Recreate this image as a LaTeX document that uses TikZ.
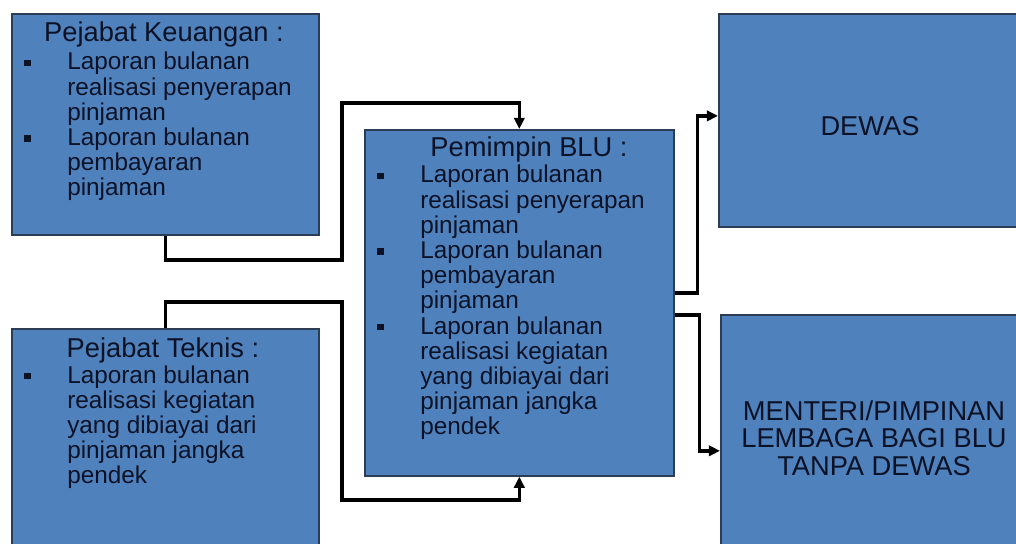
\documentclass[tikz,border=0pt]{standalone}
\usepackage{fontspec}
\setmainfont{Liberation Sans}
\usetikzlibrary{arrows.meta,positioning}
\usepackage{xcolor}
\definecolor{bluBox}{RGB}{79,129,189}
\definecolor{bluEdge}{RGB}{45,60,85}
\definecolor{ink}{RGB}{12,18,38}
\newcommand{\blt}{\rule[2.8pt]{4.6pt}{4.6pt}}
\newcommand{\isi}{\fontsize{17.3}{17.9}\selectfont}
\newcommand{\judul}{\fontsize{19.4}{19.6}\selectfont}

\begin{document}
\begin{tikzpicture}[x=0.025cm,y=-0.025cm,
    box/.style={rectangle,draw=bluEdge,fill=bluBox,line width=1.1pt,anchor=north west,inner sep=0pt},
    ttl/.style={anchor=base,inner sep=0pt,text=ink,font=\judul},
    lst/.style={anchor=base west,inner sep=0pt,text=ink,font=\isi},
    conn/.style={draw=black,line width=2.5pt,-{Triangle[length=0.28cm,width=0.26cm]}}]
    \useasboundingbox (0,0) rectangle (1016,544);
    \fill[white] (0,0) rectangle (1016,544);
    \clip (0,0) rectangle (1016,544);
    \node[box,minimum width=7.675cm,minimum height=5.525cm] (keu) at (11,13) {};
    \node[box,minimum width=7.675cm,minimum height=5.55cm] (tek) at (11,328) {};
    \node[box,minimum width=7.725cm,minimum height=8.65cm] (pim) at (364,129) {};
    \node[box,minimum width=7.55cm,minimum height=5.325cm] (dew) at (718,13) {};
    \node[box,minimum width=7.5cm,minimum height=5.9cm] (men) at (720,314) {};
    \node[font=\judul,text=ink,inner sep=0pt] (dew-txt) at (870,126) {DEWAS};
    \node[font=\fontsize{19.4}{19.7}\selectfont,text=ink,inner sep=0pt,align=center] (men-txt) at (874,438)
      {MENTERI/PIMPINAN\\LEMBAGA BAGI BLU\\TANPA DEWAS};
    \node[ttl] (keu-jdl) at (164,42) {Pejabat Keuangan :};
    \node[lst] (keu-isi) at (24,70) {\begin{tabular}[t]{@{}p{1.075cm}@{}l@{}}
      \blt & Laporan bulanan\\
           & realisasi penyerapan\\
           & pinjaman\\
      \blt & Laporan bulanan\\
           & pembayaran\\
           & pinjaman
    \end{tabular}};
    \node[ttl] (tek-jdl) at (163,357) {Pejabat Teknis :};
    \node[lst] (tek-isi) at (24,383) {\begin{tabular}[t]{@{}p{1.075cm}@{}l@{}}
      \blt & Laporan bulanan\\
           & realisasi kegiatan\\
           & yang dibiayai dari\\
           & pinjaman jangka\\
           & pendek
    \end{tabular}};
    \node[ttl] (pim-jdl) at (529,157) {Pemimpin BLU :};
    \node[lst] (pim-isi) at (377,183) {\begin{tabular}[t]{@{}p{1.075cm}@{}l@{}}
      \blt & Laporan bulanan\\
           & realisasi penyerapan\\
           & pinjaman\\
      \blt & Laporan bulanan\\
           & pembayaran\\
           & pinjaman\\
      \blt & Laporan bulanan\\
           & realisasi kegiatan\\
           & yang dibiayai dari\\
           & pinjaman jangka\\
           & pendek
    \end{tabular}};
    \draw[conn] (keu.south) |- (342,260) -- (342,103) -| (pim.north);
    \draw[conn] (tek.north) |- (342,302) -- (342,500) -| (pim.south);
    \draw[conn] ([yshift=0.25cm]pim.east) -- ++(23,0) |- ([yshift=0.11cm]dew.west);
    \draw[conn] ([yshift=-0.3cm]pim.east) -- ++(25,0) |- ([yshift=-0.45cm]men.west);
  \end{tikzpicture}
\end{document}
